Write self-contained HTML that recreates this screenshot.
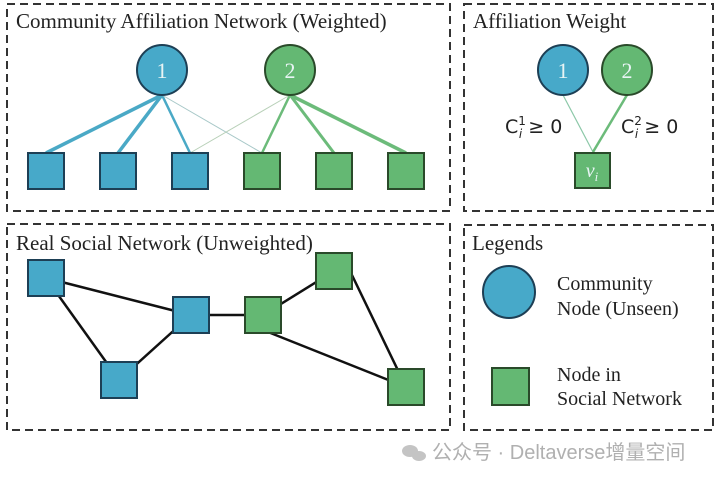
<!DOCTYPE html>
<html><head><meta charset="utf-8"><style>
html,body{margin:0;padding:0;background:#fff;width:720px;height:479px;overflow:hidden}
</style></head><body>
<svg width="720" height="479" xmlns="http://www.w3.org/2000/svg" font-family="'Liberation Serif', serif">
<g fill="none" stroke="#333" stroke-width="2" stroke-dasharray="8,5">
<rect x="7" y="4" width="443" height="207"/>
<rect x="464" y="4" width="249" height="207"/>
<rect x="7" y="224" width="443" height="206"/>
<rect x="464" y="225" width="249" height="205"/>
</g>
<g font-size="21" fill="#222">
<text x="16" y="28">Community Affiliation Network (Weighted)</text>
<text x="473" y="28">Affiliation Weight</text>
<text x="16" y="250">Real Social Network (Unweighted)</text>
<text x="472" y="250">Legends</text>
</g>
<g stroke="#4aa9c6">
<line x1="162" y1="95" x2="46" y2="153" stroke-width="3.5"/>
<line x1="162" y1="95" x2="118" y2="153" stroke-width="3.5"/>
<line x1="162" y1="95" x2="190" y2="153" stroke-width="2.5"/>
</g>
<line x1="162" y1="95" x2="262" y2="153" stroke="#a8c8c8" stroke-width="1"/>
<line x1="290" y1="95" x2="190" y2="153" stroke="#b8d0b8" stroke-width="1"/>
<g stroke="#6cbb7a">
<line x1="290" y1="95" x2="262" y2="153" stroke-width="2.5"/>
<line x1="290" y1="95" x2="334" y2="153" stroke-width="3"/>
<line x1="290" y1="95" x2="406" y2="153" stroke-width="3.5"/>
</g>
<g stroke-width="2">
<circle cx="162" cy="70" r="25" fill="#47a9c9" stroke="#1d3f55"/>
<circle cx="290" cy="70" r="25" fill="#64b873" stroke="#2a4a2a"/>
<g fill="#47a9c9" stroke="#1d3f55">
<rect x="28" y="153" width="36" height="36"/><rect x="100" y="153" width="36" height="36"/><rect x="172" y="153" width="36" height="36"/>
</g>
<g fill="#64b873" stroke="#2a4a2a">
<rect x="244" y="153" width="36" height="36"/><rect x="316" y="153" width="36" height="36"/><rect x="388" y="153" width="36" height="36"/>
</g>
</g>
<g font-size="22" fill="#e8f4f4" text-anchor="middle">
<text x="162" y="78">1</text><text x="290" y="78">2</text>
</g>
<line x1="563" y1="95" x2="593" y2="152" stroke="#8cc8a8" stroke-width="1.2"/>
<line x1="627" y1="95" x2="593" y2="152" stroke="#6cbb7a" stroke-width="2.5"/>
<g stroke-width="2">
<circle cx="563" cy="70" r="25" fill="#47a9c9" stroke="#1d3f55"/>
<circle cx="627" cy="70" r="25" fill="#64b873" stroke="#2a4a2a"/>
<rect x="575" y="153" width="35" height="35" fill="#64b873" stroke="#2a4a2a"/>
<circle cx="509" cy="292" r="26" fill="#47a9c9" stroke="#1d3f55"/>
<rect x="492" y="368" width="37" height="37" fill="#64b873" stroke="#2a4a2a"/>
</g>
<g font-size="22" fill="#e8f4f4" text-anchor="middle">
<text x="563" y="78">1</text><text x="627" y="78">2</text>
<text x="592" y="177" font-style="italic" font-size="20">v<tspan font-size="13" dy="4">i</tspan></text>
</g>
<g font-size="19" fill="#222" font-family="'DejaVu Sans', sans-serif">
<text x="505" y="133">C<tspan font-size="12" dy="-8">1</tspan><tspan font-size="12" dx="-7" dy="13" font-style="italic">i</tspan><tspan dy="-5"> ≥ 0</tspan></text>
<text x="621" y="133">C<tspan font-size="12" dy="-8">2</tspan><tspan font-size="12" dx="-7" dy="13" font-style="italic">i</tspan><tspan dy="-5"> ≥ 0</tspan></text>
</g>
<g font-size="20" fill="#222">
<text x="557" y="290">Community</text>
<text x="557" y="315">Node (Unseen)</text>
<text x="557" y="381">Node in</text>
<text x="557" y="405">Social Network</text>
</g>
<g stroke="#111" stroke-width="2.5">
<line x1="46" y1="278" x2="191" y2="315"/>
<line x1="46" y1="278" x2="119" y2="380"/>
<line x1="119" y1="380" x2="191" y2="315"/>
<line x1="191" y1="315" x2="263" y2="315"/>
<line x1="263" y1="315" x2="334" y2="271"/>
<line x1="263" y1="330" x2="406" y2="387"/>
<line x1="350" y1="271" x2="406" y2="387"/>
</g>
<g stroke-width="2">
<g fill="#47a9c9" stroke="#1d3f55">
<rect x="28" y="260" width="36" height="36"/><rect x="173" y="297" width="36" height="36"/><rect x="101" y="362" width="36" height="36"/>
</g>
<g fill="#64b873" stroke="#2a4a2a">
<rect x="245" y="297" width="36" height="36"/><rect x="316" y="253" width="36" height="36"/><rect x="388" y="369" width="36" height="36"/>
</g>
</g>
<g fill="#c4c4c4"><ellipse cx="410" cy="451" rx="8" ry="6"/><ellipse cx="419" cy="456" rx="7" ry="5"/></g>
<text x="432" y="459" font-size="20" fill="#b0b0b0" font-family="'Liberation Sans','Noto Sans CJK SC',sans-serif">公众号 · Deltaverse增量空间</text>
</svg>
</body></html>
